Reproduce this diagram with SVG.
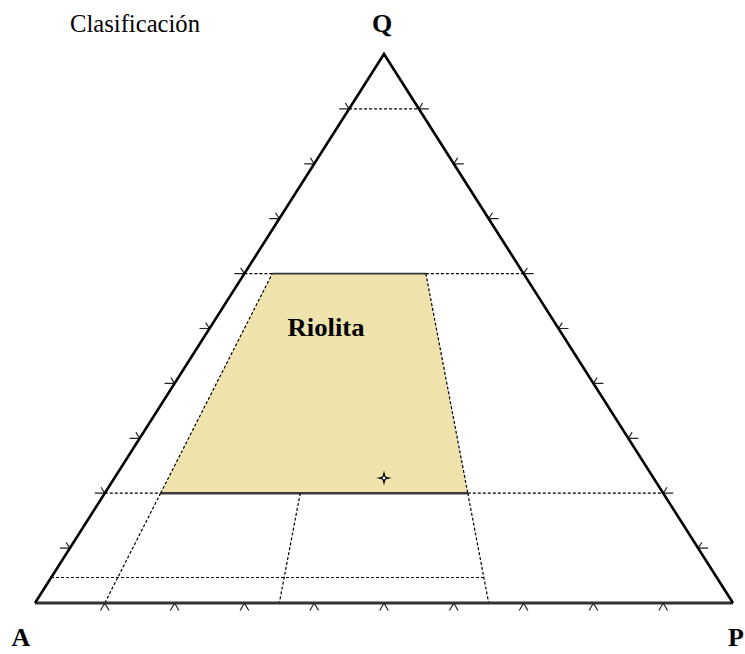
<svg xmlns="http://www.w3.org/2000/svg" width="745" height="654" viewBox="0 0 745 654">
<style>
.dash{stroke:#000;stroke-width:1.2;stroke-dasharray:3,2;fill:none}
.tick{stroke:#222;stroke-width:1.2;fill:none}
.lbl{font-family:"Liberation Serif","Times New Roman",serif;font-weight:bold;font-size:26px;fill:#000}
.ttl{font-family:"Liberation Serif","Times New Roman",serif;font-size:25px;fill:#000}
</style>
<rect width="745" height="654" fill="#fff"/>
<g id="riolita">
<polygon points="272.3,273.6 425.9,273.6 467.8,493.2 160.6,493.2" fill="#EEE2AD"/>
<line x1="160.6" y1="493.2" x2="272.3" y2="273.6" class="dash"/>
<line x1="425.9" y1="273.6" x2="467.8" y2="493.2" class="dash"/>
<line x1="272.3" y1="273.6" x2="425.9" y2="273.6" stroke="#333" stroke-width="1.8"/>
<line x1="160.6" y1="493.2" x2="467.8" y2="493.2" stroke="#3a3a3a" stroke-width="2.4"/>
<text x="326" y="336" class="lbl" text-anchor="middle" textLength="77" lengthAdjust="spacingAndGlyphs">Riolita</text>
</g>
<g id="connectors">
<line x1="349.1" y1="108.9" x2="418.9" y2="108.9" class="dash"/>
<line x1="244.4" y1="273.6" x2="272.3" y2="273.6" class="dash"/>
<line x1="425.9" y1="273.6" x2="523.6" y2="273.6" class="dash"/>
<line x1="104.8" y1="493.2" x2="160.6" y2="493.2" class="dash"/>
<line x1="467.8" y1="493.2" x2="663.2" y2="493.2" class="dash"/>
<line x1="160.6" y1="493.2" x2="104.8" y2="603" class="dash"/>
<line x1="300.2" y1="493.2" x2="279.3" y2="603" class="dash"/>
<line x1="467.8" y1="493.2" x2="488.7" y2="603" class="dash"/>
<line x1="51" y1="577.5" x2="483.5" y2="577.5" class="dash"/>
</g>
<g id="ticks">
<path class="tick" d="M349.1,108.9h-10M349.1,108.9l-3.8,-5.9
M314.2,163.8h-10M314.2,163.8l-3.8,-5.9
M279.3,218.7h-10M279.3,218.7l-3.8,-5.9
M244.4,273.6h-10M244.4,273.6l-3.8,-5.9
M209.5,328.5h-10M209.5,328.5l-3.8,-5.9
M174.6,383.4h-10M174.6,383.4l-3.8,-5.9
M139.7,438.3h-10M139.7,438.3l-3.8,-5.9
M104.8,493.2h-10M104.8,493.2l-3.8,-5.9
M69.9,548.1h-10M69.9,548.1l-3.8,-5.9"/>
<path class="tick" d="M418.9,108.9h10M418.9,108.9l3.8,-5.9
M453.8,163.8h10M453.8,163.8l3.8,-5.9
M488.7,218.7h10M488.7,218.7l3.8,-5.9
M523.6,273.6h10M523.6,273.6l3.8,-5.9
M558.5,328.5h10M558.5,328.5l3.8,-5.9
M593.4,383.4h10M593.4,383.4l3.8,-5.9
M628.3,438.3h10M628.3,438.3l3.8,-5.9
M663.2,493.2h10M663.2,493.2l3.8,-5.9
M698.1,548.1h10M698.1,548.1l3.8,-5.9"/>
<path class="tick" d="M104.8,603l-4.3,7.5M104.8,603l4.3,7.5
M174.6,603l-4.3,7.5M174.6,603l4.3,7.5
M244.4,603l-4.3,7.5M244.4,603l4.3,7.5
M314.2,603l-4.3,7.5M314.2,603l4.3,7.5
M384,603l-4.3,7.5M384,603l4.3,7.5
M453.8,603l-4.3,7.5M453.8,603l4.3,7.5
M523.6,603l-4.3,7.5M523.6,603l4.3,7.5
M593.4,603l-4.3,7.5M593.4,603l4.3,7.5
M663.2,603l-4.3,7.5M663.2,603l4.3,7.5"/>
</g>
<g id="triangle">
<line x1="35" y1="603" x2="733" y2="603" stroke="#333" stroke-width="3"/>
<polyline points="35,603 384,54 733,603" fill="none" stroke="#000" stroke-width="2.6" stroke-linejoin="miter"/>
</g>
<g id="marker">
<path d="M384,470.5L385.6,476.4L391.5,478L385.6,479.6L384,485.5L382.4,479.6L376.5,478L382.4,476.4Z" fill="#111"/>
<circle cx="384" cy="478" r="1.3" fill="#fff"/>
</g>
<g id="labels">
<text x="70" y="32" class="ttl" textLength="130" lengthAdjust="spacingAndGlyphs">Clasificación</text>
<text x="382" y="32" class="lbl" text-anchor="middle">Q</text>
<text x="21" y="646" class="lbl" text-anchor="middle">A</text>
<text x="728" y="646" class="lbl">P</text>
</g>
</svg>
